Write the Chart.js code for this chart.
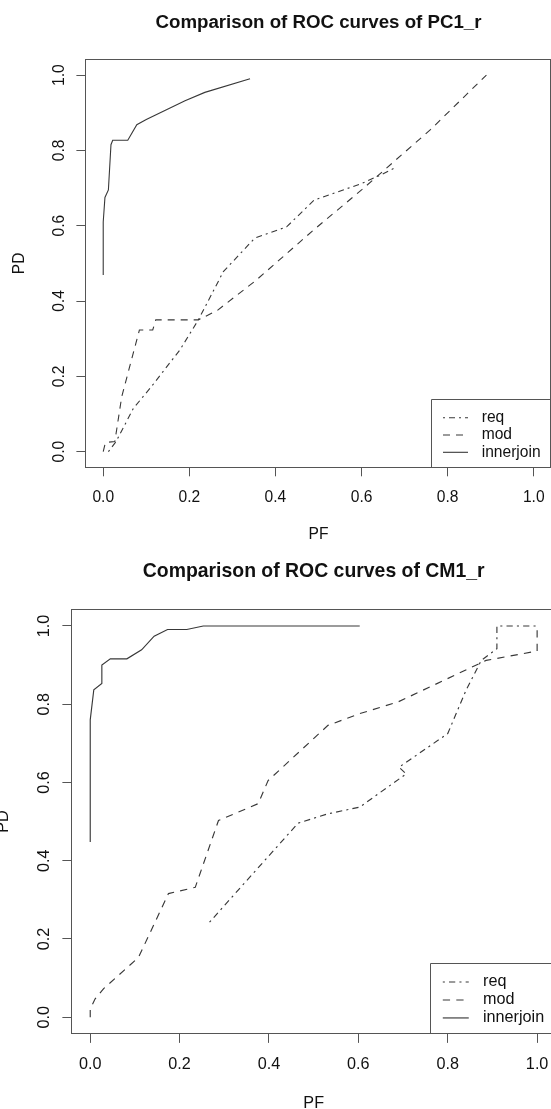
<!DOCTYPE html>
<html>
<head>
<meta charset="utf-8">
<script src="https://cdn.jsdelivr.net/npm/chart.js@4.4.1/dist/chart.umd.min.js"></script>
<style>
html, body { margin: 0; padding: 0; background: #ffffff; }
body { width: 551px; height: 1109px; position: relative; overflow: hidden; }
canvas { position: absolute; }
</style>
</head>
<body>
<canvas id="chartPC1"></canvas>
<canvas id="chartCM1"></canvas>
<script>
// ---------------- data ----------------
const xTickValues = [0, 0.2, 0.4, 0.6, 0.8, 1.0];
const yTickValues = [0, 0.2, 0.4, 0.6, 0.8, 1.0];
const seriesLabels = ['req', 'mod', 'innerjoin'];
const xAxisLabel = 'PF';
const yAxisLabel = 'PD';
const titlePC1 = 'Comparison of ROC curves of PC1_r';
const titleCM1 = 'Comparison of ROC curves of CM1_r';

// PC1_r
const pc1ReqPF = [0.012, 0.03, 0.07, 0.11, 0.178, 0.221, 0.279, 0.352, 0.426, 0.49, 0.6, 0.645, 0.68];
const pc1ReqPD = [0, 0.027, 0.115, 0.17, 0.27, 0.35, 0.478, 0.567, 0.597, 0.668, 0.712, 0.735, 0.755];
const pc1ModPF = [0, 0.005, 0.027, 0.043, 0.084, 0.115, 0.122, 0.221, 0.265, 0.355, 0.49, 0.6, 0.68, 0.76, 0.89];
const pc1ModPD = [0, 0.024, 0.027, 0.146, 0.323, 0.323, 0.35, 0.35, 0.375, 0.455, 0.59, 0.695, 0.775, 0.855, 1.0];
const pc1JoinPF = [0, 0, 0.004, 0.012, 0.018, 0.022, 0.057, 0.078, 0.1, 0.19, 0.236, 0.341];
const pc1JoinPD = [0.469, 0.61, 0.675, 0.695, 0.815, 0.827, 0.827, 0.868, 0.882, 0.932, 0.954, 0.99];

// CM1_r
const cm1ReqPF = [0.267, 0.465, 0.532, 0.603, 0.707, 0.691, 0.8, 0.841, 0.875, 0.91, 0.91, 1.0];
const cm1ReqPD = [0.243, 0.496, 0.52, 0.537, 0.622, 0.639, 0.725, 0.836, 0.912, 0.942, 1.0, 1.0];
const cm1ModPF = [0, 0, 0.011, 0.03, 0.108, 0.175, 0.235, 0.287, 0.376, 0.398, 0.532, 0.603, 0.689, 0.886, 1.0, 1.0];
const cm1ModPD = [0, 0.021, 0.047, 0.073, 0.153, 0.316, 0.332, 0.503, 0.546, 0.605, 0.746, 0.776, 0.806, 0.912, 0.936, 1.0];
const cm1JoinPF = [0, 0, 0.008, 0.026, 0.026, 0.045, 0.082, 0.115, 0.143, 0.173, 0.216, 0.253, 0.603];
const cm1JoinPD = [0.448, 0.76, 0.837, 0.853, 0.9, 0.916, 0.916, 0.939, 0.974, 0.991, 0.991, 1.0, 1.0];

// ---------------- styles ----------------
const FONT = "'Liberation Sans', Arial, Helvetica, sans-serif";
const LINE_COLOR = '#383838';
const FRAME_COLOR = '#555555';
const TEXT_COLOR = '#111111';
const dashStyles = { req: [2, 4, 6, 4], mod: [7, 6], innerjoin: [] };

function pairs(xs, ys) { return xs.map((x, i) => ({ x: x, y: ys[i] })); }

function makeChart(id, k, left, top, titleText, seriesXY) {
  const W = Math.round(551 * k), H = Math.round(554 * k);
  const cv = document.getElementById(id);
  cv.width = W; cv.height = H;
  cv.style.left = left + 'px'; cv.style.top = top + 'px';
  cv.style.width = W + 'px'; cv.style.height = H + 'px';

  const fs = 15.6 * k, tfs = 18.7 * k, tl = 9.6 * k;
  const lh = fs * 1.2, tlh = tfs * 1.2;
  const boxL = 86 * k, boxT = 60 * k, boxB = 466.7 * k;
  const widest = 1.39 * fs;

  const titlePadTop = 22.5 * k - tlh / 2;
  const titlePadBottom = boxT - titlePadTop - tlh;
  const xTickPad = 30.75 * k - tl - lh / 2;
  const yTickPad = 26.75 * k - tl - widest / 2;
  const xTitlePadBottom = H - 535 * k - lh / 2;
  const yTitlePadTop = 20 * k - lh / 2;

  const datasets = seriesLabels.map((name, i) => ({
    label: name,
    data: pairs(seriesXY[i][0], seriesXY[i][1]),
    showLine: true,
    borderColor: LINE_COLOR,
    backgroundColor: LINE_COLOR,
    borderWidth: 1.1 * k,
    borderDash: dashStyles[name].map(v => v * k),
    pointRadius: 0,
    tension: 0,
    fill: false
  }));

  const framePlugin = {
    id: 'frame',
    afterDraw(chart) {
      const a = chart.chartArea, ctx = chart.ctx;
      ctx.save();
      ctx.strokeStyle = FRAME_COLOR;
      ctx.lineWidth = 1;
      ctx.setLineDash([]);
      const l = Math.round(a.left) - 0.5, t = Math.round(a.top) - 0.5;
      const r = Math.round(a.right) - 0.5, b = Math.round(a.bottom) + 0.5;
      ctx.strokeRect(l, t, r - l, b - t);
      ctx.restore();
    }
  };

  const legendPlugin = {
    id: 'rlegend',
    afterDraw(chart) {
      const a = chart.chartArea, ctx = chart.ctx;
      const R = a.right, B = a.bottom;
      ctx.save();
      ctx.strokeStyle = FRAME_COLOR;
      ctx.lineWidth = 1;
      ctx.setLineDash([]);
      const lx = Math.round(R - 120.3 * k) + 0.5, ly = Math.round(B - 67.4 * k) + 0.5;
      ctx.beginPath();
      ctx.moveTo(lx, Math.round(B) + 0.5);
      ctx.lineTo(lx, ly);
      ctx.lineTo(Math.round(R) - 0.5, ly);
      ctx.stroke();
      const rows = [-49, -31.7, -14.4];
      chart.data.datasets.forEach((ds, i) => {
        const y = B + rows[i] * k;
        ctx.strokeStyle = ds.borderColor;
        ctx.lineWidth = ds.borderWidth;
        ctx.setLineDash(ds.borderDash || []);
        ctx.beginPath();
        ctx.moveTo(R - 108 * k, y);
        ctx.lineTo(R - 83 * k, y);
        ctx.stroke();
        ctx.setLineDash([]);
        ctx.fillStyle = TEXT_COLOR;
        ctx.font = fs + 'px ' + FONT;
        ctx.textBaseline = 'middle';
        ctx.textAlign = 'left';
        ctx.fillText(ds.label, R - 69.3 * k, y);
      });
      ctx.restore();
    }
  };

  return new Chart(cv, {
    type: 'scatter',
    data: { datasets: datasets },
    options: {
      responsive: false,
      animation: false,
      events: [],
      layout: { padding: 0, autoPadding: false },
      plugins: {
        legend: { display: false },
        tooltip: { enabled: false },
        title: {
          display: true, text: titleText, fullSize: false,
          color: TEXT_COLOR,
          font: { family: FONT, size: tfs, weight: 'bold', lineHeight: 1.2 },
          padding: { top: titlePadTop, bottom: titlePadBottom }
        }
      },
      scales: {
        x: {
          type: 'linear', position: 'bottom', min: -0.04, max: 1.04,
          afterBuildTicks: s => { s.ticks = xTickValues.map(v => ({ value: v })); },
          afterFit: s => { s.height = H - boxB; s.paddingLeft = 0; s.paddingRight = 0; },
          ticks: {
            callback: v => Number(v).toFixed(1),
            color: TEXT_COLOR, padding: xTickPad,
            font: { family: FONT, size: fs, lineHeight: 1.2 },
            maxRotation: 0, minRotation: 0, autoSkip: false
          },
          grid: { drawOnChartArea: false, drawTicks: true, tickLength: tl, color: FRAME_COLOR, lineWidth: 1 },
          border: { display: false },
          title: {
            display: true, text: xAxisLabel, color: TEXT_COLOR,
            font: { family: FONT, size: fs, lineHeight: 1.2 },
            padding: { top: 0, bottom: xTitlePadBottom }
          }
        },
        y: {
          type: 'linear', position: 'left', min: -0.04, max: 1.04,
          afterBuildTicks: s => { s.ticks = yTickValues.map(v => ({ value: v })); },
          afterFit: s => { s.width = boxL; s.paddingTop = 0; s.paddingBottom = 0; },
          ticks: {
            callback: v => Number(v).toFixed(1),
            color: TEXT_COLOR, padding: yTickPad,
            font: { family: FONT, size: fs, lineHeight: 1.2 },
            minRotation: 90, maxRotation: 90, crossAlign: 'center', autoSkip: false
          },
          grid: { drawOnChartArea: false, drawTicks: true, tickLength: tl, color: FRAME_COLOR, lineWidth: 1 },
          border: { display: false },
          title: {
            display: true, text: yAxisLabel, color: TEXT_COLOR,
            font: { family: FONT, size: fs, lineHeight: 1.2 },
            padding: { top: yTitlePadTop, bottom: 0 }
          }
        }
      }
    },
    plugins: [framePlugin, legendPlugin]
  });
}

makeChart('chartPC1', 1, 0, 0, titlePC1, [
  [pc1ReqPF, pc1ReqPD], [pc1ModPF, pc1ModPD], [pc1JoinPF, pc1JoinPD]
]);
const k2 = 1.039;
makeChart('chartCM1', k2, Math.round(72 - 86 * k2), Math.round(610 - 60 * k2), titleCM1, [
  [cm1ReqPF, cm1ReqPD], [cm1ModPF, cm1ModPD], [cm1JoinPF, cm1JoinPD]
]);
</script>
</body>
</html>
